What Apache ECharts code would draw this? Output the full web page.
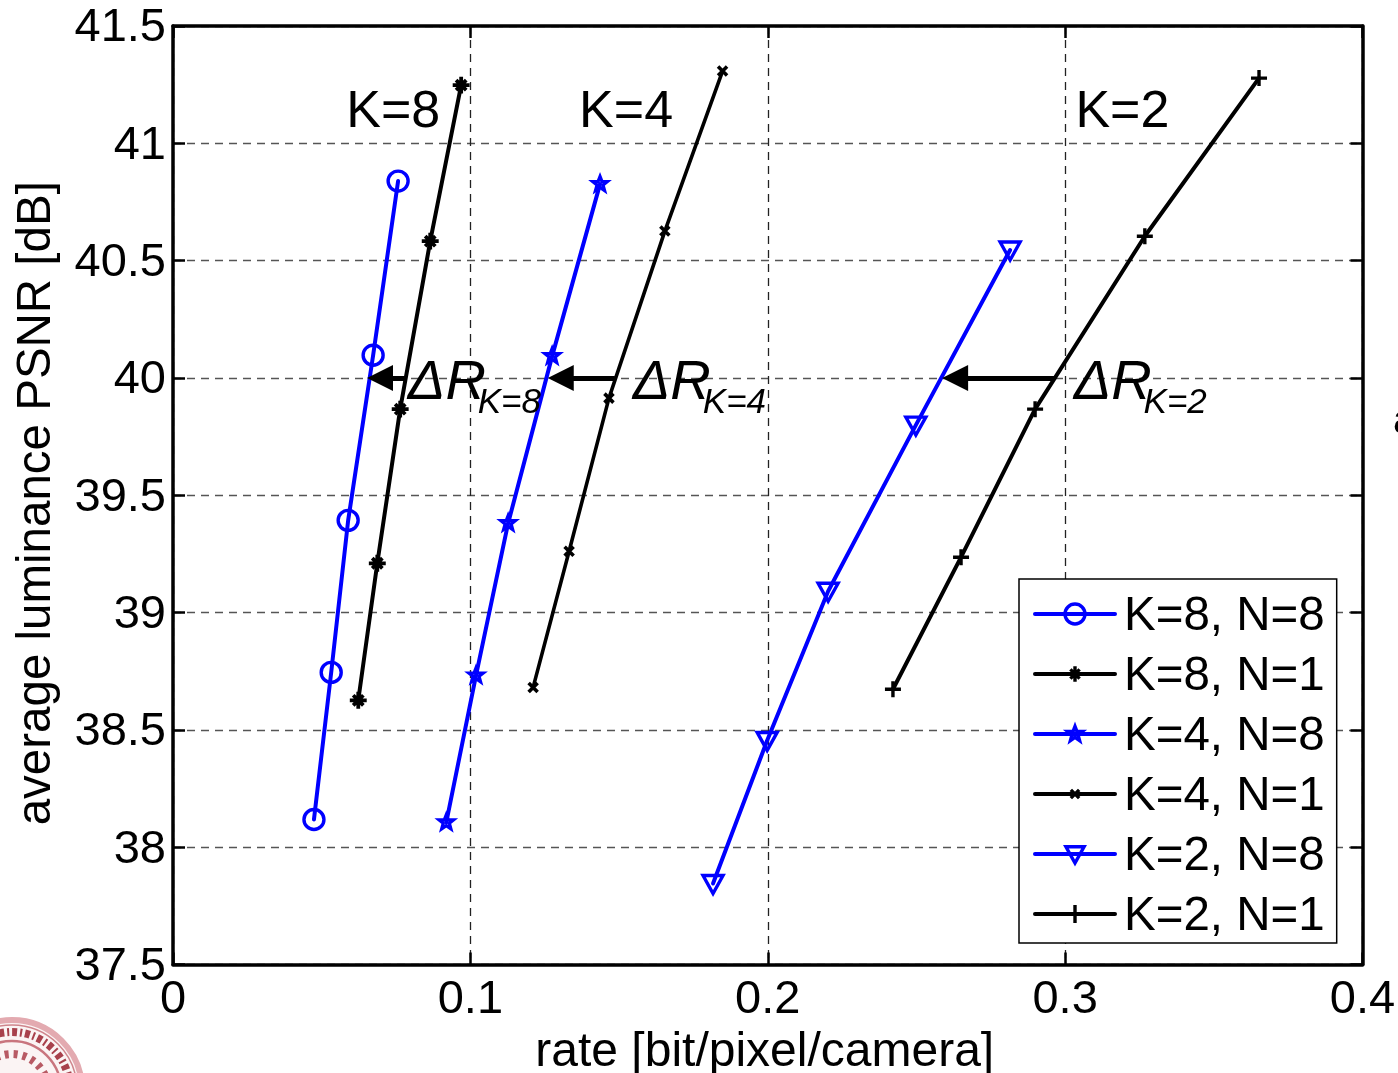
<!DOCTYPE html>
<html><head><meta charset="utf-8">
<style>html,body{margin:0;padding:0;background:#fff}#c{width:1398px;height:1073px}</style>
<script src="https://cdn.jsdelivr.net/npm/echarts@6/dist/echarts.min.js"></script>
</head><body><div id="c"></div>
<script>
const k8n8 = [[0.0474,38.118],[0.0532,38.745],[0.0589,39.393],[0.0673,40.097],[0.0757,40.839]];
const k8n1 = [[0.0623,38.626],[0.0687,39.210],[0.0764,39.867],[0.0865,40.583],[0.0969,41.248]];
const k4n8 = [[0.0919,38.106],[0.1019,38.732],[0.1127,39.381],[0.1275,40.093],[0.1436,40.826]];
const k4n1 = [[0.1211,38.681],[0.1332,39.261],[0.1466,39.914],[0.1654,40.626],[0.1848,41.308]];
const k2n8 = [[0.1816,37.845],[0.1998,38.455],[0.2203,39.091],[0.2498,39.799],[0.2815,40.545]];
const k2n1 = [[0.2421,38.673],[0.2650,39.236],[0.2899,39.867],[0.3268,40.604],[0.3652,41.278]];
const seriesNames = ['K=8, N=8','K=8, N=1','K=4, N=8','K=4, N=1','K=2, N=8','K=2, N=1'];
const arrows = [[0.0780,0.0696,40],[0.1486,0.1304,40],[0.2966,0.2630,40]];
const kLabels = [[0.0581,41.13,'K=8'],[0.1364,41.13,'K=4'],[0.3033,41.13,'K=2']];
const deltaLabels = [[0.0788,39.975,'ΔR'],[0.1544,39.975,'ΔR'],[0.3027,39.975,'ΔR']];
const subLabels = [[0.1023,39.89,'K=8'],[0.1780,39.89,'K=4'],[0.3262,39.89,'K=2']];

const BLUE='#0000ff', BLACK='#000000', FONT='"Liberation Sans", Arial, sans-serif';
const P = {
  plus:'M0 -10V10M-10 0H10',
  x:'M-10 -10L10 10M-10 10L10 -10',
  star:'M0 -10V10M-10 0H10M-6 -6L6 6M-6 6L6 -6',
  tri:'M-10 -8H10L0 10Z',
  penta:'M0 -10L2.6 -3.2H9.5L4 1.2L6 8.5L0 4.3L-6 8.5L-4 1.2L-9.5 -3.2H-2.6Z'
};
const mark=(k,r)=>'path://'+P[k]+'M'+(-r)+' '+(-r)+'L'+(-r)+' '+(-r)+'M'+r+' '+r+'L'+r+' '+r;
function line(name,data,color,symbol,size,fill,bw,lw){
  return {type:'line',name,data,symbol,symbolSize:size,symbolKeepAspect:true,showSymbol:true,
    lineStyle:{color,width:lw||4,cap:'round'},
    itemStyle:{color:fill,borderColor:color,borderWidth:bw},
    emphasis:{disabled:true},animation:false,silent:true,z:3,clip:false};
}
function textSeries(data,font,style){
  return {type:'scatter',data:data.map(d=>({value:[d[0],d[1]],label:{formatter:d[2]}})),
    symbolSize:1,itemStyle:{color:'rgba(0,0,0,0)',opacity:1},silent:true,animation:false,z:6,
    label:{show:true,position:'right',distance:0,color:'#000',fontFamily:FONT,fontSize:font,fontStyle:style}};
}
const arrowSeries = {type:'line',data:[],silent:true,animation:false,z:5,
  markLine:{silent:true,animation:false,symbol:['none','triangle'],symbolSize:[26,26],precision:4,
    label:{show:false},lineStyle:{color:'#000',width:5,type:'solid'},
    data:arrows.map(a=>[{coord:[a[0],a[2]],symbol:'none'},{coord:[a[1],a[2]],symbol:'triangle'}])}};

const axisCommon={axisLine:{show:true,onZero:false,lineStyle:{color:'#000',width:3.5}},
  axisTick:{show:true,inside:true,length:12,lineStyle:{color:'#000',width:2.5}}};
const labelStyle={color:'#000',fontFamily:FONT,fontSize:47};

const chart=echarts.init(document.getElementById('c'),null,{renderer:'canvas'});
chart.setOption({
  backgroundColor:'#fff',animation:false,
  grid:{left:173,top:26,width:1189.5,height:938.5,containLabel:false,outerBoundsMode:'none'},
  xAxis:[
    Object.assign({type:'value',min:0,max:0.4,interval:0.1,position:'bottom',
      name:'rate [bit/pixel/camera]',nameLocation:'middle',nameGap:56,
      nameTextStyle:{color:'#000',fontFamily:FONT,fontSize:48,padding:[0,6,0,0]},
      axisLabel:Object.assign({margin:12,hideOverlap:false,showMaxLabel:true,showMinLabel:true},labelStyle),
      splitLine:{show:true,lineStyle:{color:'#222',width:1.3,type:[8,6]}}},axisCommon),
    Object.assign({type:'value',min:0,max:0.4,interval:0.1,position:'top',axisLabel:{show:false},splitLine:{show:false}},axisCommon)
  ],
  yAxis:[
    Object.assign({type:'value',min:37.5,max:41.5,interval:0.5,position:'left',
      name:'average luminance PSNR [dB]',nameLocation:'middle',nameGap:112,
      nameTextStyle:{color:'#000',fontFamily:FONT,fontSize:47.5,padding:[0,16,0,0]},
      axisLabel:{margin:7,showMaxLabel:true,showMinLabel:true,formatter:'{a|{value}}',
        rich:{a:Object.assign({padding:[5,0,0,0]},labelStyle)}},
      splitLine:{show:true,lineStyle:{color:'#555',width:1.3,type:[8,6]}}},axisCommon),
    Object.assign({type:'value',min:37.5,max:41.5,interval:0.5,position:'right',axisLabel:{show:false},splitLine:{show:false}},axisCommon)
  ],
  legend:{show:true,orient:'vertical',left:1019,top:579,data:seriesNames,
    padding:[8.5,12,2.5,14],itemGap:7,itemWidth:80,itemHeight:25,
    backgroundColor:'#fff',borderColor:'#000',borderWidth:1.5,borderRadius:0,selectedMode:false,z:10,
    lineStyle:{width:4},itemStyle:{borderWidth:3.4},
    formatter:'{a|{name}}',
    textStyle:{rich:{a:{color:'#000',fontFamily:FONT,fontSize:47.5,lineHeight:50,padding:[5,0,0,4]}}}},
  graphic:[
    {type:'circle',silent:true,shape:{cx:12,cy:1090,r:70},style:{fill:'#fbf4f4',stroke:'#e3aab0',lineWidth:6},z:1},
    {type:'circle',silent:true,shape:{cx:12,cy:1090,r:65},style:{fill:'none',stroke:'#cf858c',lineWidth:1.5},z:1},
    {type:'circle',silent:true,shape:{cx:12,cy:1090,r:58},style:{fill:'none',stroke:'#a8414c',lineWidth:8,lineDash:[5,3,2,3]},z:1},
    {type:'circle',silent:true,shape:{cx:12,cy:1090,r:49},style:{fill:'#fbf4f4',stroke:'#c9757e',lineWidth:2.5},z:1},
    {type:'circle',silent:true,shape:{cx:12,cy:1090,r:36},style:{fill:'none',stroke:'#b85a64',lineWidth:8,lineDash:[4,5]},z:1},
    {type:'text',silent:true,x:1393,y:402,style:{text:'a',fill:'#000',fontFamily:FONT,fontSize:40},z:1}
  ],
  series:[
    line(seriesNames[0],k8n8,BLUE,'circle',20,'rgba(0,0,0,0)',3.4),
    line(seriesNames[1],k8n1,BLACK,mark('star',13),22,'rgba(0,0,0,0)',3.8),
    line(seriesNames[2],k4n8,BLUE,mark('penta',13),20,'rgba(0,0,255,0.35)',3.2),
    line(seriesNames[3],k4n1,BLACK,mark('x',24),21.6,'rgba(0,0,0,0)',3.6,3.6),
    line(seriesNames[4],k2n8,BLUE,mark('tri',11),22,'rgba(0,0,0,0)',3.4),
    line(seriesNames[5],k2n1,BLACK,mark('plus',11),17.6,'rgba(0,0,0,0)',3.4),
    arrowSeries,
    textSeries(kLabels,52,'normal'),
    textSeries(deltaLabels,56,'italic'),
    textSeries(subLabels,35,'italic')
  ]
});
</script></body></html>
